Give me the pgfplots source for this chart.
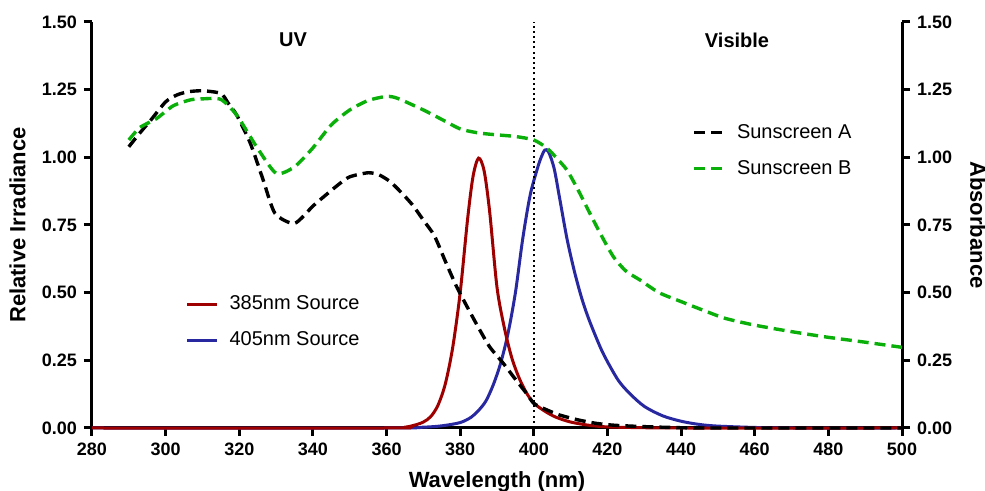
\documentclass[border=0pt]{standalone}
\usepackage{fontspec}
\setmainfont{Liberation Sans}
\usepackage{pgfplots}
\pgfplotsset{compat=1.18}
\definecolor{cred}{RGB}{158,0,0}
\definecolor{cblue}{RGB}{40,40,160}
\definecolor{cgreen}{RGB}{10,175,10}
\pgfplotsset{base/.style={
  scale only axis, width=405pt, height=203pt,
  xmin=280, xmax=500, ymin=0, ymax=1.5,
  ytick={0,0.25,...,1.5},
  xtick={280,300,...,500},
  axis line style={line width=1.5pt,-},
  tick style={line width=1.5pt, black},
  tick align=outside, major tick length=4pt,
  tick label style={font=\bfseries\fontsize{9}{10}\selectfont},
  /pgf/number format/assume math mode=true,
  yticklabel style={/pgf/number format/.cd, fixed, fixed zerofill, precision=2},
  xticklabel style={/pgf/number format/1000 sep={}},
  label style={font=\bfseries\fontsize{11}{13}\selectfont},
  legend image code/.code={\draw[#1] (0pt,0pt) -- (15pt,0pt);},
  legend cell align=left,
  legend style={draw=none, fill=none, font=\fontsize{10}{12}\selectfont,
    row sep=5.5pt, inner sep=0pt,
    /tikz/every odd column/.append style={column sep=3.5pt}},
  clip=false,
}}
\begin{document}
\begin{tikzpicture}
\begin{axis}[base, name=ax,
  axis x line*=bottom, axis y line*=left,
  xlabel={Wavelength (nm)}, ylabel={Relative Irradiance},
  xlabel style={at={(axis description cs:0.5,-0.133)}, anchor=center},
  ylabel style={at={(axis description cs:-0.092,0.5)}, anchor=center},
  legend style={at={(0.115,0.26)}, anchor=west},
]
\addlegendimage{cred, line width=1.5pt}
\addlegendentry{385nm Source}
\addlegendimage{cblue, line width=1.5pt}
\addlegendentry{405nm Source}
\addplot[cblue, line width=1.5pt, smooth, tension=0.5, forget plot] coordinates {
(280,0)(360,0)(370,0.003)(375,0.008)(380,0.02)(383,0.04)(385,0.065)(387,0.10)(389,0.16)(391,0.24)(393,0.35)(395,0.50)(397,0.70)(399,0.86)(401,0.96)(402,1.0)(403,1.027)(404,1.02)(405.5,0.96)(407,0.85)(409,0.70)(411,0.58)(413,0.48)(415,0.40)(418,0.30)(420,0.245)(423,0.175)(426,0.128)(430,0.08)(435,0.045)(440,0.025)(445,0.013)(450,0.007)(460,0.002)(470,0)(500,0)};
\addplot[cred, line width=1.5pt, smooth, tension=0.5, forget plot] coordinates {
(280,0)(360,0)(365,0.003)(368,0.012)(370,0.022)(372,0.042)(374,0.085)(376,0.165)(378,0.30)(380,0.50)(382,0.77)(383.5,0.93)(385,0.997)(386.5,0.95)(388,0.80)(390,0.52)(392,0.37)(394,0.26)(396,0.185)(398,0.13)(400,0.092)(403,0.062)(406,0.040)(410,0.022)(415,0.010)(420,0.004)(430,0.001)(440,0)(500,0)};
\addplot[black, line width=1pt, dash pattern=on 1pt off 1.6pt, forget plot] coordinates {(400,0)(400,1.5)};
\node[font=\bfseries\fontsize{10}{12}\selectfont] at (axis cs:334.6,1.433) {UV};
\node[font=\bfseries\fontsize{10}{12}\selectfont] at (axis cs:455.2,1.433) {Visible};
\end{axis}
\begin{axis}[base,
  axis x line=none, axis y line*=right,
  ylabel={Absorbance},
  ylabel style={at={(axis description cs:1.094,0.5)}, anchor=center, rotate=180},
  legend style={at={(0.741,0.683)}, anchor=west},
]
\addplot[black, line width=1.7pt, dash pattern=on 5.5pt off 3pt, smooth, tension=0.4] coordinates {
(290,1.039)(293,1.09)(296,1.138)(300,1.205)(303,1.23)(306,1.242)(310,1.246)(315,1.236)(317,1.20)(319.3,1.156)(323,1.052)(326.5,0.916)(329.7,0.793)(335,0.756)(340,0.82)(343,0.855)(347,0.90)(350,0.928)(355,0.943)(358,0.935)(361,0.910)(364,0.87)(367,0.825)(370,0.768)(373,0.71)(376,0.615)(379,0.523)(382,0.445)(385,0.37)(388,0.30)(391.7,0.239)(395,0.18)(398,0.128)(400,0.091)(403,0.07)(407,0.048)(412,0.03)(417,0.017)(422,0.01)(430,0.005)(440,0.001)(450,0)(500,0)};
\addplot[cgreen, line width=1.7pt, dash pattern=on 5.5pt off 3pt, smooth, tension=0.4] coordinates {
(290,1.064)(293,1.11)(297.6,1.144)(302,1.19)(306.6,1.212)(310,1.216)(315,1.214)(319.3,1.156)(324.7,1.039)(330,0.941)(335,0.965)(340,1.035)(345,1.12)(350,1.175)(355,1.21)(360,1.225)(363,1.218)(370,1.175)(375,1.14)(380,1.105)(385,1.09)(390,1.083)(395,1.077)(400,1.064)(403.5,1.035)(406,1.00)(409,0.953)(412,0.88)(414.3,0.818)(418,0.72)(421.6,0.633)(425,0.58)(428.8,0.547)(434,0.50)(440,0.467)(446,0.435)(452,0.405)(460,0.38)(470,0.356)(480,0.335)(490,0.317)(500,0.298)};
\legend{Sunscreen A, Sunscreen B}
\end{axis}
\pgfresetboundingbox
\path[use as bounding box] ([shift={(-46pt,-31.5pt)}]ax.south west) rectangle ([shift={(446.5pt,214pt)}]ax.south west);
\end{tikzpicture}
\end{document}
